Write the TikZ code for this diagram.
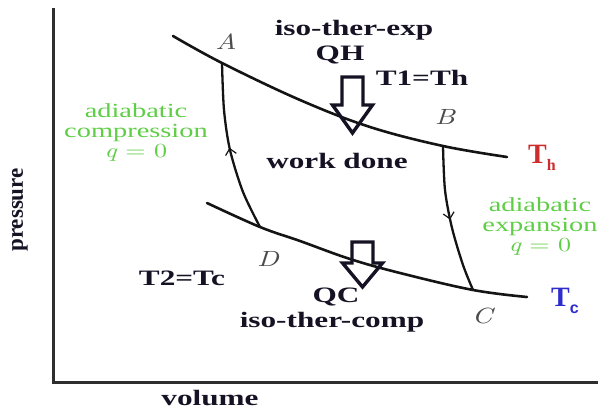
\documentclass[tikz,border=0pt]{standalone}
\usepackage{fontspec}
\usetikzlibrary{arrows.meta, decorations.markings}
\newfontfamily\lblfont{Liberation Serif}[FakeStretch=1.42]
\newfontfamily\tempfont{Liberation Serif}
\newfontfamily\subfont{Liberation Sans}
\newfontfamily\ptfont{lmroman10-italic.otf}[FakeStretch=1.3]
\newfontfamily\eqfont{lmroman10-regular.otf}[FakeStretch=1.3]
\definecolor{ink}{RGB}{22,18,36}
\definecolor{curve}{gray}{0.08}
\definecolor{axis}{gray}{0.18}
\definecolor{adia}{RGB}{95,205,70}
\definecolor{hot}{RGB}{205,45,45}
\definecolor{cold}{RGB}{45,45,205}
% x of shaft centre, top of shaft, neck, tip
\newcommand{\heatarrow}[4]{%
  \draw[draw=ink, line width=3.4pt, line join=miter]
    ({#1-10.5},#2) -- ({#1-10.5},#3) -- ({#1-20},#3) -- (#1,#4)
    -- ({#1+20},#3) -- ({#1+10.5},#3) -- ({#1+10.5},#2) -- cycle;}

\begin{document}
\begin{tikzpicture}[x=1pt, y=-1pt,
  lbl/.style={font=\lblfont\bfseries\fontsize{22}{24}\selectfont, text=ink, inner sep=0pt},
  grn/.style={font=\lblfont\fontsize{20}{20}\selectfont, text=adia, align=center, inner sep=0pt},
  pt/.style={font=\ptfont\fontsize{22}{22}\selectfont, text=black!70, inner sep=0pt},
  temp/.style={font=\tempfont\bfseries\fontsize{28}{28}\selectfont, inner sep=0pt, anchor=base west},
  iso/.style={draw=curve, line width=2.6pt, line cap=round},
  adb/.style={draw=curve, line width=2.3pt, postaction=decorate,
    decoration={markings, mark=at position 0.5 with
      {\arrow{Straight Barb[length=6pt, width=11pt, line width=1.2pt]}}}}]
\useasboundingbox (0,0) rectangle (598,411);

% axes
\coordinate (ytop) at (53,8);
\coordinate (orig) at (53,383);
\coordinate (xend) at (598,383);
\draw[draw=axis, line width=3pt] (ytop) -- (orig) -- (xend);
\node[lbl, font=\tempfont\bfseries\fontsize{23}{24}\selectfont, rotate=90] (pres) at (20,210) {pressure};
\node[lbl] (vol) at (210,398) {volume};

% corners of the cycle
\coordinate (A) at (222,63);
\coordinate (B) at (443,146);
\coordinate (C) at (473,290);
\coordinate (D) at (260,227);
\coordinate (hs) at (173,36);
\coordinate (he) at (507,157);
\coordinate (cs) at (207,203);
\coordinate (ce) at (527,297);

% isotherms
\draw[iso] plot[smooth, tension=0.6] coordinates {(hs) (A) (300,100) (370,127) (B) (he)};
\draw[iso] plot[smooth, tension=0.6] coordinates {(cs) (D) (300,241) (350,259) (400,273) (C) (ce)};

% adiabats
\draw[adb] plot[smooth] coordinates {(D) (243,192) (230,150) (224,110) (A)};
\draw[adb] plot[smooth] coordinates {(B) (445,190) (452,228) (463,265) (C)};

% heat flow
\heatarrow{352.5}{77}{105}{133}
\heatarrow{362.5}{242}{263}{287}

\node[pt] (ptA) at (226,42) {A};
\node[pt] (ptB) at (445,117) {B};
\node[pt] (ptC) at (482,316) {C};
\node[pt] (ptD) at (268,259) {D};

\node[lbl] (isoexp) at (354,30) {iso-ther-exp};
\node[lbl] (qh) at (340,55) {QH};
\node[lbl] (t1) at (422,78) {T1=Th};
\node[lbl] (work) at (337,161) {work done};
\node[lbl] (t2) at (182,278) {T2=Tc};
\node[lbl] (qc) at (336,297) {QC};
\node[lbl] (isocomp) at (332,322) {iso-ther-comp};

\node[grn] (adcomp) at (136,133)
  {adiabatic\\compression\\{\ptfont q}{\eqfont\ =\ 0}};
\node[grn] (adexp) at (540,227)
  {adiabatic\\expansion\\{\ptfont q}{\eqfont\ =\ 0}};

\node[temp, text=hot] (th) at (528,164)
  {T\raisebox{-7pt}{\fontsize{16}{16}\selectfont h}};
\node[temp, text=cold] (tc) at (551,307)
  {T\raisebox{-7pt}{\subfont\fontsize{16}{16}\selectfont c}};
\end{tikzpicture}
\end{document}
